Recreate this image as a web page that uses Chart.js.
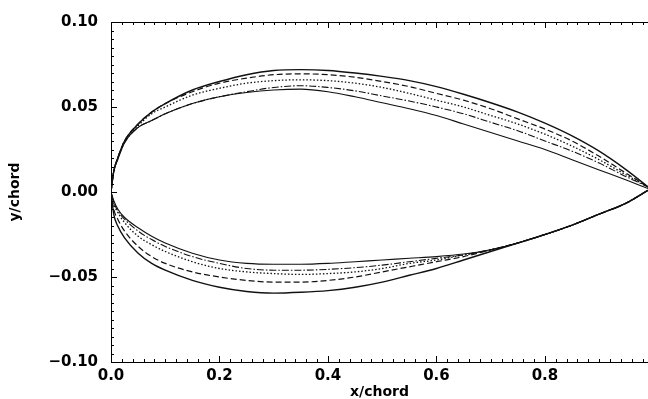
<!DOCTYPE html>
<html>
<head>
<meta charset="utf-8">
<script src="https://cdn.jsdelivr.net/npm/chart.js@4"></script>
<style>
html,body{margin:0;padding:0;background:#fff;}
#wrap{width:648px;height:399px;position:relative;}
</style>
</head>
<body>
<div id="wrap"><canvas id="c" width="648" height="399"></canvas></div>
<script>
// ---- data ----
const xStations = [0, 0.005, 0.0125, 0.025, 0.05, 0.075, 0.1, 0.15, 0.2, 0.25, 0.3, 0.35, 0.4, 0.45, 0.5, 0.55, 0.6, 0.65, 0.7, 0.75, 0.8, 0.85, 0.9, 0.95, 0.99];

const upperA = [0, 0.012, 0.020, 0.030, 0.040, 0.047, 0.052, 0.060, 0.065, 0.069, 0.0715, 0.072, 0.0715, 0.070, 0.068, 0.0655, 0.062, 0.0575, 0.0525, 0.047, 0.0405, 0.033, 0.024, 0.013, 0.003];
const upperB = [0, 0.012, 0.020, 0.030, 0.040, 0.047, 0.052, 0.059, 0.064, 0.067, 0.069, 0.0695, 0.069, 0.0675, 0.065, 0.062, 0.058, 0.054, 0.049, 0.043, 0.037, 0.030, 0.021, 0.011, 0.003];
const upperC = [0, 0.012, 0.020, 0.030, 0.039, 0.046, 0.050, 0.057, 0.061, 0.064, 0.0655, 0.066, 0.0655, 0.064, 0.0615, 0.058, 0.054, 0.050, 0.045, 0.040, 0.034, 0.027, 0.019, 0.010, 0.003];
const upperD = [0, 0.012, 0.020, 0.029, 0.038, 0.042, 0.046, 0.052, 0.056, 0.059, 0.0615, 0.0625, 0.0615, 0.0595, 0.0565, 0.0535, 0.050, 0.046, 0.041, 0.036, 0.030, 0.024, 0.017, 0.009, 0.003];
const upperE = [0, 0.012, 0.019, 0.029, 0.038, 0.042, 0.046, 0.052, 0.056, 0.0585, 0.060, 0.0605, 0.059, 0.056, 0.0525, 0.049, 0.045, 0.040, 0.035, 0.030, 0.025, 0.019, 0.013, 0.007, 0.002];

const lowerA = [0, -0.013, -0.020, -0.027, -0.036, -0.042, -0.046, -0.052, -0.056, -0.0585, -0.0595, -0.059, -0.058, -0.056, -0.053, -0.049, -0.045, -0.040, -0.035, -0.030, -0.025, -0.0195, -0.013, -0.0065, 0.001];
const lowerB = [0, -0.010, -0.016, -0.023, -0.032, -0.038, -0.042, -0.047, -0.050, -0.052, -0.053, -0.053, -0.052, -0.050, -0.047, -0.044, -0.041, -0.038, -0.034, -0.030, -0.025, -0.0195, -0.013, -0.0065, 0.001];
const lowerC = [0, -0.007, -0.012, -0.018, -0.026, -0.031, -0.035, -0.041, -0.045, -0.047, -0.048, -0.0485, -0.048, -0.047, -0.045, -0.042, -0.040, -0.037, -0.034, -0.030, -0.025, -0.0195, -0.013, -0.0065, 0.001];
const lowerD = [0, -0.006, -0.011, -0.016, -0.023, -0.028, -0.032, -0.038, -0.042, -0.045, -0.046, -0.046, -0.0455, -0.0445, -0.043, -0.041, -0.039, -0.037, -0.034, -0.030, -0.025, -0.0195, -0.013, -0.0065, 0.001];
const lowerE = [0, -0.005, -0.010, -0.015, -0.021, -0.026, -0.030, -0.036, -0.040, -0.042, -0.0425, -0.0425, -0.042, -0.041, -0.040, -0.039, -0.038, -0.0365, -0.034, -0.030, -0.025, -0.0195, -0.013, -0.0065, 0.001];

const xTickValues = [0.0, 0.2, 0.4, 0.6, 0.8];
const yTickValues = [-0.10, -0.05, 0.00, 0.05, 0.10];
const xTitle = 'x/chord';
const yTitle = 'y/chord';

// ---- build ----
const styles = {
  A: {dash: [], width: 1.4},
  B: {dash: [6, 3], width: 1.2},
  C: {dash: [1.5, 2], width: 1.3},
  D: {dash: [7, 2, 1.5, 2], width: 1.1},
  E: {dash: [], width: 1.1}
};
function series(ys, key, upper) {
  const s = styles[key];
  return {
    label: key + (upper ? ' upper' : ' lower'),
    data: xStations.map((x, i) => ({x: x, y: ys[i]})),
    showLine: true,
    borderColor: '#111',
    borderWidth: s.width,
    borderDash: s.dash,
    pointRadius: 0,
    cubicInterpolationMode: 'monotone',
    fill: false
  };
}
const datasets = [
  series(upperA, 'A', true), series(upperB, 'B', true), series(upperC, 'C', true),
  series(upperD, 'D', true), series(upperE, 'E', true),
  series(lowerA, 'A', false), series(lowerB, 'B', false), series(lowerC, 'C', false),
  series(lowerD, 'D', false), series(lowerE, 'E', false)
];

const inwardTicks = {
  id: 'inwardTicks',
  afterDatasetsDraw(chart) {
    const ctx = chart.ctx, a = chart.chartArea;
    const xs = chart.scales.x, ys = chart.scales.y;
    ctx.save();
    ctx.strokeStyle = '#000';
    ctx.lineWidth = 1;
    ctx.beginPath();
    ctx.moveTo(a.left, a.top + 0.5); ctx.lineTo(a.right, a.top + 0.5);
    ctx.stroke();
    ctx.beginPath();
    for (let i = 0; i <= 49; i++) {
      const v = i * 0.02;
      if (v > xs.max + 1e-9) break;
      const px = Math.round(xs.getPixelForValue(v)) + 0.5;
      const len = (i % 10 === 0) ? 6 : 3;
      ctx.moveTo(px, a.bottom); ctx.lineTo(px, a.bottom - len);
      ctx.moveTo(px, a.top); ctx.lineTo(px, a.top + len);
    }
    for (let i = 0; i <= 40; i++) {
      const v = -0.1 + i * 0.005;
      const py = Math.round(ys.getPixelForValue(v)) + 0.5;
      const len = (i % 10 === 0) ? 6 : 3;
      ctx.moveTo(a.left, py); ctx.lineTo(a.left + len, py);
    }
    ctx.stroke();
    ctx.restore();
  }
};

const tickFont = {family: '"DejaVu Sans"', weight: 'bold', size: 15};
const titleFont = {family: '"DejaVu Sans"', weight: 'bold', size: 14, lineHeight: 1};

new Chart(document.getElementById('c'), {
  type: 'scatter',
  data: {datasets: datasets},
  options: {
    responsive: false,
    animation: false,
    devicePixelRatio: 1,
    layout: {padding: {top: 19, right: 0, left: 0, bottom: 0}},
    plugins: {legend: {display: false}, tooltip: {enabled: false}},
    scales: {
      x: {
        type: 'linear', min: 0, max: 0.99,
        afterBuildTicks: s => { s.ticks = xTickValues.map(v => ({value: v})); },
        afterFit: s => { s.height = 37; },
        grid: {display: false, drawTicks: false},
        border: {display: true, color: '#000', width: 1},
        ticks: {color: '#000', font: tickFont, padding: 5, maxRotation: 0, autoSkip: false,
                callback: v => v.toFixed(1)},
        title: {display: true, text: xTitle, color: '#000', font: titleFont, padding: {top: 0, bottom: 0}}
      },
      y: {
        type: 'linear', min: -0.1, max: 0.1,
        afterBuildTicks: s => { s.ticks = yTickValues.map(v => ({value: v})); },
        afterFit: s => { s.width = 111; },
        grid: {display: false, drawTicks: false},
        border: {display: true, color: '#000', width: 1},
        ticks: {color: '#000', font: tickFont, padding: 13, autoSkip: false,
                callback: v => (v < -1e-9 ? '\u2212' : '') + Math.abs(v).toFixed(2)},
        title: {display: true, text: yTitle, color: '#000', font: titleFont, padding: {top: 8, bottom: 8}}
      }
    }
  },
  plugins: [inwardTicks]
});
</script>
</body>
</html>
